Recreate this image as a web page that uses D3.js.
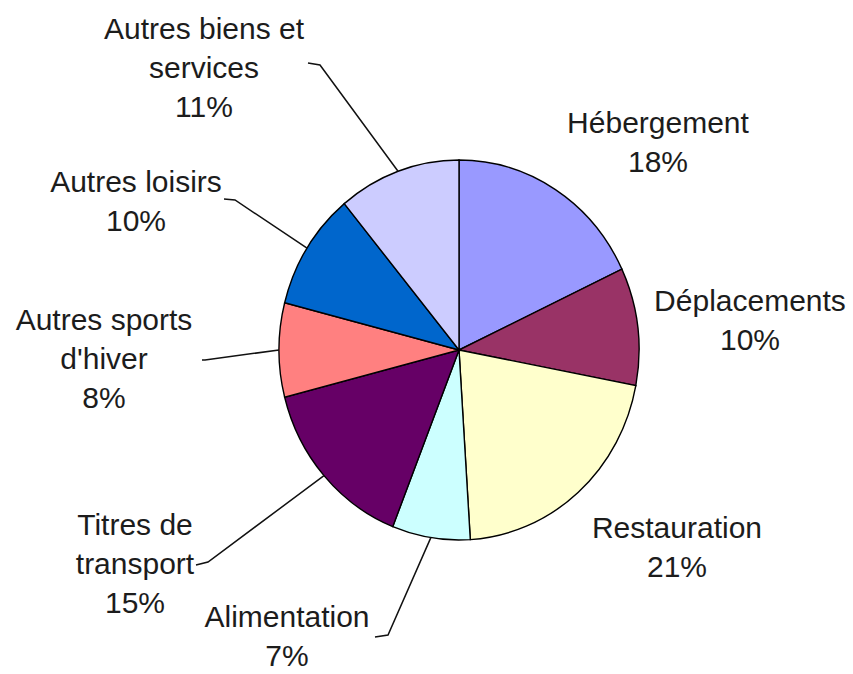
<!DOCTYPE html>
<html>
<head>
<meta charset="utf-8">
<script src="https://cdn.jsdelivr.net/npm/d3@7"></script>
<style>
  body { margin: 0; background: #fff; }
  text { font-family: "Liberation Sans", Arial, sans-serif; font-size: 30px; fill: #1c1c1c; }
</style>
</head>
<body>
<svg></svg>
<script>
// budget shares, clockwise from 12 o'clock
var categories = ["Hébergement", "Déplacements", "Restauration", "Alimentation",
                  "Titres de transport", "Autres sports d'hiver", "Autres loisirs",
                  "Autres biens et services"];
var shares = [18, 10, 21, 7, 15, 8, 10, 11];
var colors = ["#9999ff", "#993366", "#ffffcc", "#ccffff",
              "#660066", "#ff8080", "#0066cc", "#ccccff"];
// how each label is broken into lines
var labelLines = [
  ["Hébergement"], ["Déplacements"], ["Restauration"], ["Alimentation"],
  ["Titres de", "transport"], ["Autres sports", "d'hiver"], ["Autres loisirs"],
  ["Autres biens et", "services"]
];

// layout: label centre x, first baseline y, and optional leader elbow
var labelLayout = [
  {x: 658, y: 133, elbow: null},
  {x: 750, y: 311, elbow: null},
  {x: 677, y: 538, elbow: null},
  {x: 287, y: 627, elbow: [[375, 637], [388, 635]]},
  {x: 135, y: 535, elbow: [[196, 565], [208, 562]]},
  {x: 104, y: 330, elbow: [[202, 360], [205, 360]]},
  {x: 136, y: 192, elbow: [[224, 199], [235, 200]]},
  {x: 204, y: 39,  elbow: [[308, 63], [320, 65]]}
];

var width = 853, height = 674;
var cx = 459, cy = 350, r = 180, ry = 190;
var sy = ry / r;
var lineH = 39;

var svg = d3.select("svg")
            .attr("width", width)
            .attr("height", height);

var pie = d3.pie().sort(null).value(d => d);
var arcs = pie(shares);

var arc = d3.arc().innerRadius(0).outerRadius(r);
var edge = d3.arc().innerRadius(r).outerRadius(r);

var g = svg.append("g")
           .attr("transform", "translate(" + cx + "," + cy + ") scale(1," + sy + ")");

g.selectAll("path")
  .data(arcs)
  .enter()
  .append("path")
    .attr("d", arc)
    .attr("fill", (d, i) => colors[i])
    .attr("stroke", "#000")
    .attr("stroke-width", 1.4)
    .attr("vector-effect", "non-scaling-stroke");

// leader lines
var line = d3.line();
arcs.forEach(function(d, i) {
  var lay = labelLayout[i];
  if (!lay.elbow) return;
  var c = edge.centroid(d);
  var p = [cx + c[0], cy + c[1] * sy];
  svg.append("path")
     .attr("d", line([lay.elbow[0], lay.elbow[1], p]))
     .attr("fill", "none")
     .attr("stroke", "#111")
     .attr("stroke-width", 1.5);
});

// labels
categories.forEach(function(name, i) {
  var lay = labelLayout[i];
  var lines = labelLines[i].concat([shares[i] + "%"]);
  var t = svg.append("text")
             .attr("text-anchor", "middle");
  lines.forEach(function(s, k) {
    t.append("tspan")
     .attr("x", lay.x)
     .attr("y", lay.y + k * lineH)
     .text(s);
  });
});
</script>
</body>
</html>
